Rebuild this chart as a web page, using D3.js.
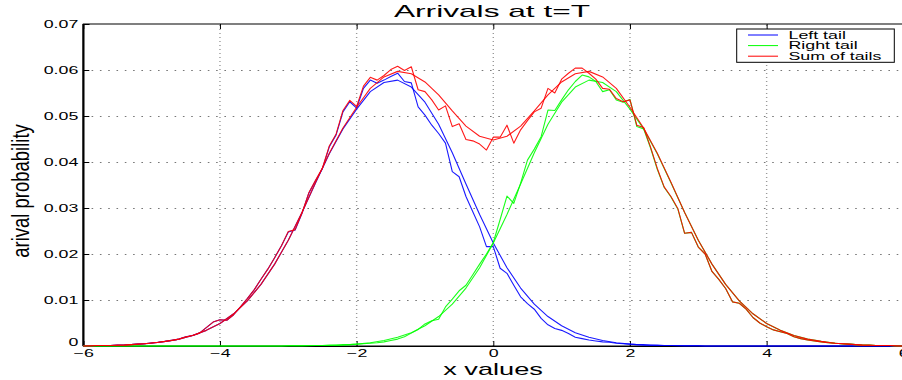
<!DOCTYPE html>
<html><head><meta charset="utf-8">
<script src="https://cdn.jsdelivr.net/npm/d3@7"></script>
<style>
html,body{margin:0;padding:0;background:#fff;}
svg{display:block;}
text{font-family:"Liberation Sans",Arial,Helvetica,sans-serif;fill:#000;}
</style></head>
<body>
<svg id="chart" width="902" height="380"></svg>
<script>
// ---- data ----
const xCoarse = [-6,-5.8,-5.6,-5.4,-5.2,-5,-4.8,-4.6,-4.4,-4.2,-4,-3.8,-3.6,-3.4,-3.2,-3,-2.8,-2.6,-2.4,-2.2,-2,-1.8,-1.6,-1.4,-1.2,-1,-0.8,-0.6,-0.4,-0.2,0,0.2,0.4,0.6,0.8,1,1.2,1.4,1.6,1.8,2,2.2,2.4,2.6,2.8,3,3.2,3.4,3.6,3.8,4,4.2,4.4,4.6,4.8,5,5.2,5.4,5.6,5.8,6];
const leftSmooth = [0,0.0001,0.0001,0.0002,0.0004,0.0006,0.0010,0.0015,0.0023,0.0034,0.0049,0.0070,0.0098,0.0134,0.0178,0.0230,0.0290,0.0355,0.0418,0.0472,0.0515,0.0553,0.0573,0.0578,0.0563,0.0530,0.0482,0.0420,0.0352,0.0286,0.0224,0.0170,0.0126,0.0091,0.0064,0.0044,0.0029,0.0019,0.0012,0.0007,0.0004,0.0002,0.0001,0.0001,0,0,0,0,0,0,0,0,0,0,0,0,0,0,0,0,0];
const rightSmooth = [0,0,0,0,0,0,0,0,0,0,0,0,0,0,0,0,0,0.0001,0.0001,0.0002,0.0004,0.0007,0.0012,0.0019,0.0029,0.0044,0.0064,0.0091,0.0126,0.0170,0.0224,0.0286,0.0352,0.0420,0.0482,0.0530,0.0563,0.0578,0.0573,0.0553,0.0515,0.0472,0.0418,0.0355,0.0290,0.0230,0.0178,0.0134,0.0098,0.0070,0.0049,0.0034,0.0023,0.0015,0.0010,0.0006,0.0004,0.0002,0.0001,0.0001,0];
const sumSmooth = [0,0.0001,0.0001,0.0002,0.0004,0.0006,0.0010,0.0015,0.0023,0.0034,0.0049,0.0070,0.0098,0.0134,0.0178,0.0230,0.0290,0.0356,0.0419,0.0474,0.0519,0.0560,0.0585,0.0597,0.0592,0.0574,0.0546,0.0511,0.0478,0.0456,0.0448,0.0456,0.0478,0.0511,0.0546,0.0574,0.0592,0.0597,0.0585,0.0560,0.0519,0.0474,0.0419,0.0356,0.0290,0.0230,0.0178,0.0134,0.0098,0.0070,0.0049,0.0034,0.0023,0.0015,0.0010,0.0006,0.0004,0.0002,0.0001,0.0001,0];

const xFine = [-6,-5.9,-5.8,-5.7,-5.6,-5.5,-5.4,-5.3,-5.2,-5.1,-5,-4.9,-4.8,-4.7,-4.6,-4.5,-4.4,-4.3,-4.2,-4.1,-4,-3.9,-3.8,-3.7,-3.6,-3.5,-3.4,-3.3,-3.2,-3.1,-3,-2.9,-2.8,-2.7,-2.6,-2.5,-2.4,-2.3,-2.2,-2.1,-2,-1.9,-1.8,-1.7,-1.6,-1.5,-1.4,-1.3,-1.2,-1.1,-1,-0.9,-0.8,-0.7,-0.6,-0.5,-0.4,-0.3,-0.2,-0.1,0,0.1,0.2,0.3,0.4,0.5,0.6,0.7,0.8,0.9,1,1.1,1.2,1.3,1.4,1.5,1.6,1.7,1.8,1.9,2,2.1,2.2,2.3,2.4,2.5,2.6,2.7,2.8,2.9,3,3.1,3.2,3.3,3.4,3.5,3.6,3.7,3.8,3.9,4,4.1,4.2,4.3,4.4,4.5,4.6,4.7,4.8,4.9,5,5.1,5.2,5.3,5.4,5.5,5.6,5.7,5.8,5.9,6];
const leftSim = [0,0,0.0001,0.0001,0.0001,0.0002,0.0002,0.0003,0.0004,0.0005,0.0007,0.0008,0.0010,0.0012,0.0015,0.0020,0.0023,0.0028,0.0040,0.0052,0.0057,0.0056,0.0068,0.0085,0.0103,0.0122,0.0145,0.0167,0.0192,0.0218,0.0248,0.0252,0.0288,0.0332,0.0360,0.0386,0.0433,0.0459,0.0509,0.0531,0.0517,0.0560,0.0578,0.0571,0.0578,0.0586,0.0593,0.0575,0.0572,0.0520,0.0502,0.0480,0.0462,0.0441,0.0379,0.0368,0.0325,0.0292,0.0259,0.0216,0.0216,0.0169,0.0158,0.0132,0.0107,0.0092,0.0080,0.0060,0.0046,0.0038,0.0034,0.0027,0.0019,0.0016,0.0013,0.0011,0.0009,0.0008,0.0006,0.0005,0.0004,0.0003,0.0003,0.0002,0.0002,0.0001,0.0001,0.0001,0.0001,0.0001,0.0001,0,0,0,0,0,0,0,0,0,0,0,0,0,0,0,0,0,0,0,0,0,0,0,0,0,0,0,0,0,0];
const rightSim = [0,0,0,0,0,0,0,0,0,0,0,0,0,0,0,0,0,0,0,0,0,0,0,0,0,0,0,0,0,0,0.0001,0.0001,0.0001,0.0001,0.0001,0.0001,0.0002,0.0002,0.0003,0.0003,0.0004,0.0005,0.0006,0.0007,0.0009,0.0012,0.0015,0.0020,0.0028,0.0036,0.0048,0.0055,0.0058,0.0085,0.0102,0.0120,0.0132,0.0155,0.0178,0.0200,0.0225,0.0275,0.0326,0.0310,0.0354,0.0404,0.0428,0.0455,0.0513,0.0512,0.0535,0.0557,0.0575,0.0589,0.0585,0.0575,0.0553,0.0557,0.0535,0.0530,0.0536,0.0477,0.0472,0.0431,0.0384,0.0345,0.0324,0.0298,0.0245,0.0247,0.0215,0.0200,0.0162,0.0145,0.0125,0.0096,0.0093,0.0080,0.0062,0.0050,0.0042,0.0035,0.0031,0.0027,0.0020,0.0016,0.0013,0.0011,0.0009,0.0007,0.0006,0.0005,0.0004,0.0003,0.0002,0.0002,0.0001,0.0001,0.0001,0,0];
const sumSim = [0,0,0.0001,0.0001,0.0001,0.0002,0.0002,0.0003,0.0004,0.0005,0.0007,0.0008,0.0010,0.0012,0.0015,0.0020,0.0023,0.0028,0.0040,0.0052,0.0057,0.0056,0.0068,0.0085,0.0103,0.0122,0.0145,0.0167,0.0192,0.0218,0.0249,0.0253,0.0289,0.0333,0.0361,0.0387,0.0435,0.0461,0.0512,0.0534,0.0521,0.0565,0.0584,0.0578,0.0588,0.0601,0.0608,0.0599,0.0607,0.0557,0.0553,0.0535,0.0513,0.0522,0.0477,0.0483,0.0449,0.0446,0.0439,0.0426,0.0454,0.0454,0.0480,0.0441,0.0470,0.0490,0.0509,0.0517,0.0560,0.0550,0.0580,0.0593,0.0604,0.0604,0.0593,0.0580,0.0560,0.0558,0.0538,0.0531,0.0535,0.0480,0.0475,0.0433,0.0386,0.0346,0.0325,0.0299,0.0245,0.0247,0.0215,0.0200,0.0162,0.0145,0.0125,0.0096,0.0093,0.0080,0.0062,0.0050,0.0042,0.0035,0.0031,0.0027,0.0020,0.0016,0.0013,0.0011,0.0009,0.0007,0.0006,0.0005,0.0004,0.0003,0.0002,0.0002,0.0001,0.0001,0.0001,0,0];

const xTicks = [-6,-4,-2,0,2,4,6];
const xTickLabels = ["\u22126","\u22124","\u22122","0","2","4","6"];
const yTicks = [0,0.01,0.02,0.03,0.04,0.05,0.06,0.07];
const yTickLabels = ["0","0.01","0.02","0.03","0.04","0.05","0.06","0.07"];
const legendLabels = ["Left tail","Right tail","Sum of tails"];
const legendColors = ["#0000ff","#00ff00","#ff0000"];
const titleText = "Arrivals at t=T";
const xLabelText = "x values";
const yLabelText = "arival probability";

// ---- drawing ----
const SX = 1.78; // horizontal stretch of text
const svg = d3.select("#chart");
const x = d3.scaleLinear().domain([-6,6]).range([83.3,903.3]);
const y = d3.scaleLinear().domain([0,0.07]).range([346,24]);

// grid
const grid = svg.append("g");
grid.selectAll("line.h").data(yTicks.slice(1,-1)).join("line")
  .attr("x1",x(-6)).attr("x2",x(6)).attr("y1",d=>Math.round(y(d))+0.5).attr("y2",d=>Math.round(y(d))+0.5)
  .attr("stroke","#777").attr("stroke-width",1).attr("stroke-dasharray","1.6,6.7");
grid.selectAll("line.v").data(xTicks.slice(1,-1)).join("line")
  .attr("x1",d=>x(d)).attr("x2",d=>x(d)).attr("y1",y(0)).attr("y2",y(0.07))
  .attr("stroke","#999").attr("stroke-width",1.4).attr("stroke-dasharray","1,3");

// frame
svg.append("rect").attr("x",x(-6)).attr("y",y(0.07)).attr("width",x(6)-x(-6)).attr("height",y(0)-y(0.07))
  .attr("fill","none").attr("stroke","#000").attr("stroke-width",1);
svg.append("line").attr("x1",x(-6)).attr("x2",x(-6)).attr("y1",y(0)).attr("y2",y(0.07)).attr("stroke","#000").attr("stroke-width",2);

// axes with inward ticks
const xAxis = d3.axisBottom(x).tickValues(xTicks).tickFormat((d,i)=>xTickLabels[i]).tickSize(-5).tickPadding(3);
const gx = svg.append("g").attr("transform",`translate(0,${y(0)})`).call(xAxis);
const xAxisTop = d3.axisTop(x).tickValues(xTicks).tickFormat("").tickSize(-5);
svg.append("g").attr("transform",`translate(0,${y(0.07)})`).call(xAxisTop).select(".domain").remove();
const yAxis = d3.axisLeft(y).tickValues(yTicks).tickFormat((d,i)=>yTickLabels[i]).tickSize(-6).tickPadding(5);
const gy = svg.append("g").attr("transform",`translate(${x(-6)},0)`).call(yAxis);
[gx,gy].forEach(g=>{g.select(".domain").attr("stroke","#000"); g.selectAll(".tick line").attr("stroke","#000");});
svg.selectAll(".tick text").attr("font-size",10).attr("font-family","Liberation Sans, Arial, sans-serif").attr("fill","#000");
gy.selectAll(".tick text").each(function(){
  const t=d3.select(this); const xx=+t.attr("x");
  t.attr("transform",`translate(${xx},0) scale(${SX},1) translate(${-xx},0)`);
});
gx.selectAll(".tick text").attr("transform",`scale(${SX},1)`).attr("dy","0.85em");
gy.selectAll(".tick").filter(d=>d===0).select("text").attr("dy","-0.05em");

// lines
const line = (xs)=>d3.line().x((d,i)=>x(xs[i])).y(d=>y(d));
const plot = svg.append("g");
const series = [
  {xs:xCoarse, v:leftSmooth, c:"#0000ff"},
  {xs:xFine, v:leftSim, c:"#0000ff"},
  {xs:xCoarse, v:rightSmooth, c:"#00ff00"},
  {xs:xFine, v:rightSim, c:"#00ff00"},
  {xs:xCoarse, v:sumSmooth, c:"#ff0000"},
  {xs:xFine, v:sumSim, c:"#ff0000"}
];
series.forEach(s=>{
  plot.append("path").attr("d",line(s.xs)(s.v)).attr("fill","none").attr("stroke",s.c)
    .attr("stroke-width",1.1).attr("stroke-linejoin","round").attr("stroke-opacity",0.9);
});

// legend
const lg = svg.append("g");
lg.append("rect").attr("x",736.7).attr("y",29).attr("width",157.6).attr("height",33.3).attr("fill","#fff").attr("stroke","#000").attr("stroke-width",1);
legendLabels.forEach((l,i)=>{
  const yy = 35 + i*10.6;
  lg.append("line").attr("x1",748).attr("x2",778).attr("y1",yy).attr("y2",yy).attr("stroke",legendColors[i]).attr("stroke-width",1);
  lg.append("text").attr("transform",`translate(788.5,${yy+3.6}) scale(${SX},1)`).attr("font-size",10).text(l);
});

// titles
svg.append("text").attr("transform",`translate(492,17) scale(1.98,1)`).attr("text-anchor","middle").attr("font-size",16).text(titleText);
svg.append("text").attr("transform",`translate(493,375) scale(1.6,1)`).attr("text-anchor","middle").attr("font-size",17).text(xLabelText);
svg.append("text").attr("transform",`translate(29,191) rotate(-90) scale(1,1.3)`).attr("text-anchor","middle").attr("font-size",18.5).text(yLabelText);
</script>
</body></html>
